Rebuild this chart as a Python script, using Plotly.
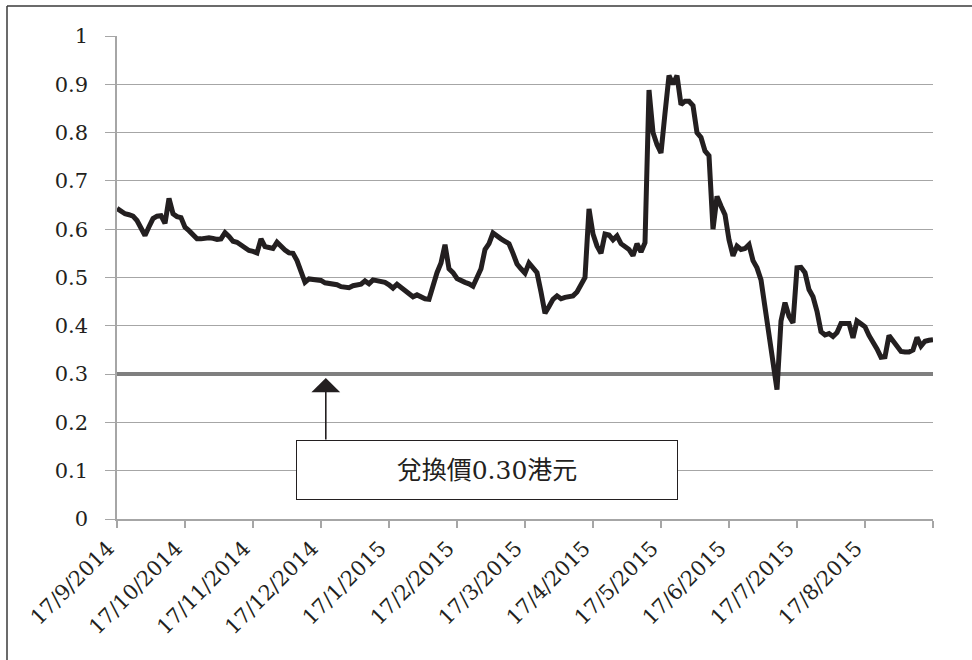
import plotly.graph_objects as go

# Daily closing price (HK$), one value per session, Sep 2014 - Aug 2015
price = [
    0.643, 0.636, 0.632, 0.630, 0.627, 0.618, 0.603, 0.587, 0.605, 0.622, 0.627, 0.628, 0.612, 0.664, 0.632, 0.626, 0.624,
    0.604, 0.597, 0.589, 0.580, 0.580, 0.582, 0.582, 0.581, 0.579, 0.580, 0.593, 0.585, 0.575, 0.573, 0.567, 0.560, 0.556,
    0.554, 0.551, 0.580, 0.564, 0.562, 0.560, 0.573, 0.563, 0.557, 0.551, 0.550, 0.535, 0.512, 0.490, 0.497, 0.496, 0.496,
    0.494, 0.489, 0.488, 0.488, 0.485, 0.481, 0.480, 0.479, 0.483, 0.484, 0.486, 0.493, 0.487, 0.495, 0.493, 0.491, 0.490,
    0.485, 0.478, 0.486, 0.480, 0.472, 0.466, 0.460, 0.464, 0.459, 0.456, 0.455, 0.485, 0.510, 0.530, 0.568, 0.518, 0.510,
    0.498, 0.493, 0.490, 0.487, 0.482, 0.500, 0.518, 0.558, 0.570, 0.592, 0.585, 0.580, 0.575, 0.570, 0.550, 0.528, 0.518,
    0.509, 0.530, 0.520, 0.510, 0.470, 0.426, 0.440, 0.455, 0.462, 0.456, 0.459, 0.461, 0.462, 0.470, 0.485, 0.500, 0.642,
    0.590, 0.565, 0.550, 0.590, 0.588, 0.578, 0.586, 0.570, 0.565, 0.558, 0.545, 0.570, 0.553, 0.572, 0.888, 0.800, 0.775,
    0.758, 0.840, 0.918, 0.900, 0.918, 0.858, 0.865, 0.865, 0.856, 0.800, 0.790, 0.762, 0.752, 0.600, 0.668, 0.648, 0.630,
    0.578, 0.545, 0.565, 0.558, 0.560, 0.568, 0.535, 0.520, 0.495, 0.440, 0.370, 0.330, 0.268, 0.410, 0.448, 0.420, 0.406,
    0.520, 0.521, 0.510, 0.475, 0.460, 0.430, 0.388, 0.381, 0.384, 0.378, 0.386, 0.405, 0.405, 0.405, 0.375, 0.410, 0.404,
    0.398, 0.380, 0.367, 0.352, 0.335, 0.336, 0.380, 0.368, 0.358, 0.347, 0.346, 0.346, 0.350, 0.376, 0.358, 0.368, 0.370,
    0.371,
]

# Conversion price (HK$)
conversion_price = 0.30
conversion_label = "兌換價0.30港元"

month_labels = [
    "17/9/2014", "17/10/2014", "17/11/2014", "17/12/2014",
    "17/1/2015", "17/2/2015", "17/3/2015", "17/4/2015",
    "17/5/2015", "17/6/2015", "17/7/2015", "17/8/2015",
]
sessions_per_label = 17

x = list(range(len(price)))
last = len(price) - 1

tick_vals = list(range(0, last + 1, sessions_per_label))
tick_text = month_labels + [""] * (len(tick_vals) - len(month_labels))

serif = "DejaVu Serif"
cjk = "DejaVu Serif, Noto Sans CJK TC"
grid = "#a6a6a6"
ink = "#231f20"

fig = go.Figure()

fig.add_trace(go.Scatter(
    x=[0, last], y=[conversion_price, conversion_price],
    mode="lines", line=dict(color="#7f7f7f", width=4),
    hoverinfo="skip", showlegend=False,
))

fig.add_trace(go.Scatter(
    x=x, y=price, mode="lines",
    line=dict(color=ink, width=5),
    showlegend=False,
))

# Label box
fig.add_annotation(
    x=92.4, y=0.1015, xref="x", yref="y",
    text=conversion_label, showarrow=False,
    font=dict(family=cjk, size=25, color=ink),
    bgcolor="white", bordercolor=ink, borderwidth=1,
    width=378, height=56, align="center", valign="middle",
)

# Arrow from the box up to the conversion-price line
fig.add_annotation(
    x=52.2, y=0.292, xref="x", yref="y",
    ax=52.2, ay=0.1615, axref="x", ayref="y",
    text="", showarrow=True,
    arrowhead=1, arrowsize=3, arrowwidth=1.6, arrowcolor=ink,
)

fig.update_layout(
    width=972, height=660,
    margin=dict(l=117, r=39, t=36, b=141),
    paper_bgcolor="white", plot_bgcolor="white",
    font=dict(family=serif, size=21, color=ink),
    shapes=[
        dict(type="line", xref="paper", yref="paper",
             x0=-0.1348, x1=1.05, y0=1.0621, y1=1.0621,
             line=dict(color="#3a3a3a", width=1.5)),
        dict(type="line", xref="paper", yref="paper",
             x0=-0.1348, x1=-0.1348, y0=1.0621, y1=-0.30,
             line=dict(color="#3a3a3a", width=1.5)),
    ],
)

fig.update_xaxes(
    range=[0, last], tickmode="array", tickvals=tick_vals, ticktext=tick_text,
    tickangle=-45, showgrid=False, zeroline=False,
    showline=True, linecolor=grid, linewidth=1.5,
    ticks="outside", ticklen=7, tickcolor=grid, tickwidth=1.5,
    ticklabelshift=-9,
    tickfont=dict(family=serif, size=21, color=ink),
)

fig.update_yaxes(
    range=[0, 1], tickmode="array",
    tickvals=[i / 10 for i in range(11)],
    ticktext=["0", "0.1", "0.2", "0.3", "0.4", "0.5", "0.6", "0.7", "0.8", "0.9", "1"],
    showgrid=True, gridcolor=grid, gridwidth=1.2, zeroline=False,
    showline=True, linecolor=grid, linewidth=1.5,
    ticks="outside", ticklen=10, tickcolor=grid, tickwidth=1.2,
    ticklabelstandoff=13,
    tickfont=dict(family=serif, size=21, color=ink),
)

fig.write_html("out.html")
